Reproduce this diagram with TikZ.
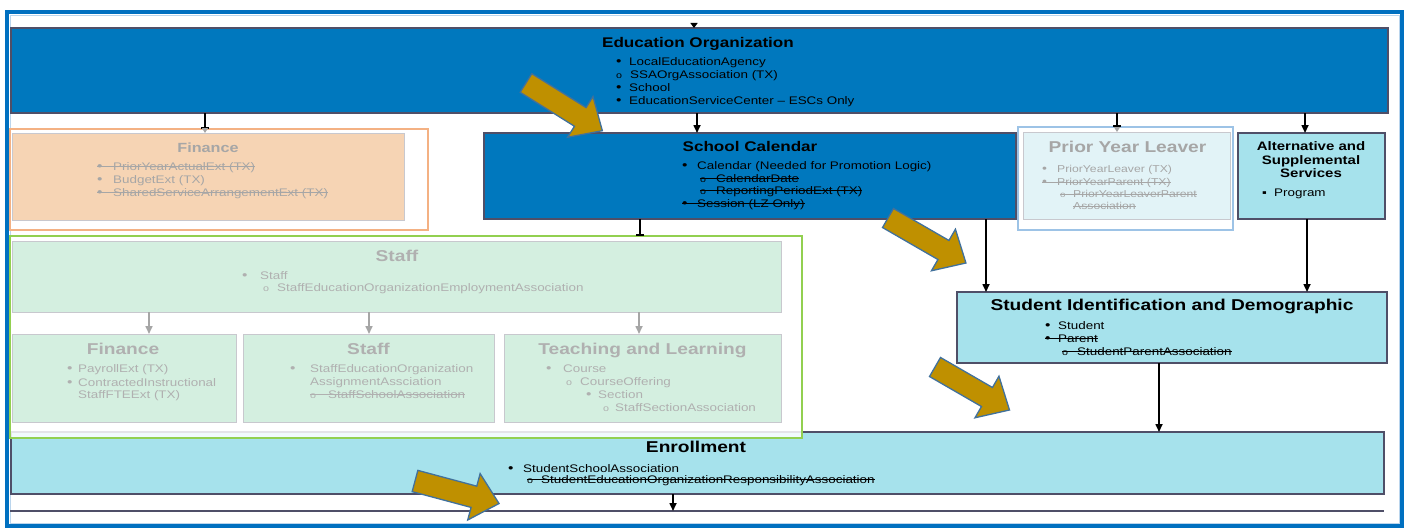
\documentclass[tikz,border=0pt]{standalone}
\usepackage{fontspec}
\setmainfont{Liberation Sans}[FakeStretch=1.22]
\usetikzlibrary{arrows.meta}
\definecolor{eoblue}{HTML}{0078BE}
\definecolor{frameblue}{HTML}{0070C0}
\definecolor{bord}{HTML}{4F4F68}
\definecolor{cyanbox}{HTML}{A6E2EC}
\definecolor{gold}{HTML}{BF9000}
\definecolor{goldedge}{HTML}{41719C}
\definecolor{fadetxt}{HTML}{A6A6A6}
\definecolor{fadetxttwo}{HTML}{B0B0B0}
\definecolor{peach}{HTML}{F6D4B4}
\definecolor{orangeline}{HTML}{F4B183}
\definecolor{palegreen}{HTML}{D4EFE0}
\definecolor{greenline}{HTML}{92D050}
\definecolor{paleblue}{HTML}{E2F3F7}
\definecolor{blueline}{HTML}{9DC3E6}
\definecolor{fadebord}{HTML}{C8C8CE}
\newsavebox\stkbox
\newcommand\stk[1]{\sbox\stkbox{#1}\rlap{\rule[0.27em]{\wd\stkbox}{0.075em}}\usebox\stkbox}
\newcommand\bul[1]{\makebox[#1pt][l]{\scalebox{1.15}{•}}}
\newcommand\subb[1]{\makebox[#1pt][l]{\scalebox{0.8}{o}}}
\newcommand\sqb[1]{\makebox[#1pt][l]{▪}}
\newcommand\fbul{\fontsize{11}{13}\selectfont}
\newcommand\fsmall{\fontsize{10}{12}\selectfont}
\newcommand\fmid{\fontsize{14}{16}\selectfont\bfseries}
\newcommand\fbig{\fontsize{15.7}{18}\selectfont\bfseries}
\begin{document}
\begin{tikzpicture}[x=1pt,y=-1pt,
  box/.style={draw=bord, line width=1.2pt, inner sep=0pt, outer sep=0pt},
  fbx/.style={draw=fadebord, line width=1pt, inner sep=0pt, outer sep=0pt},
  ovl/.style={line width=2.2pt, inner sep=0pt, outer sep=0pt},
  txt/.style={anchor=base west, inner sep=0pt, font=\fbul},
  ttl/.style={anchor=base, inner sep=0pt, font=\fbig},
  arr/.style={line width=1.6pt, -{Triangle[width=7pt,length=8pt]}},
  garr/.style={draw=fadetxt, fill=fadetxt, line width=1.6pt, -{Triangle[width=7pt,length=8pt]}},
  gtip/.style={draw=fadetxt, fill=fadetxt, line width=1pt, -{Triangle[width=6pt,length=5pt]}},
  tbar/.style={line width=1.6pt, -{Bar[width=8pt,line width=2.4pt]}},
  goldarr/.style={fill=gold, draw=goldedge, line width=1.3pt, line join=miter}]
\useasboundingbox (0,0) rectangle (1404,527);
\fill[white] (0,0) rectangle (1404,527);
% outer frame
\draw[frameblue, line width=4pt] (7,12) rectangle (1402,526);
\draw[blueline!70, line width=1pt] (10,15.5) rectangle (1399,523);

% x positions of connectors
\coordinate (xa) at (205,0);
\coordinate (xb) at (697,0);
\coordinate (xc) at (1117,0);
\coordinate (xd) at (1305,0);
\coordinate (xe) at (640,0);
\coordinate (xf) at (986,0);
\coordinate (xg) at (1307,0);
\coordinate (xh1) at (149,0);
\coordinate (xh2) at (369,0);
\coordinate (xh3) at (639,0);
\coordinate (xi) at (1159,0);
\coordinate (xj) at (673,0);
\coordinate (topc) at (694,24);
\coordinate (bl) at (10,511);
\coordinate (br) at (1384,511);

% boxes
\node[box, fill=eoblue, minimum width=1377, minimum height=85] (eo) at (699.5,70.5) {};
\node[ovl, draw=orangeline, fill=white, minimum width=418, minimum height=101] (finov) at (219,179.5) {};
\node[fbx, fill=peach, minimum width=392, minimum height=87] (fin) at (208,176.5) {};
\node[box, fill=eoblue, minimum width=532, minimum height=86] (sc) at (750,176) {};
\node[ovl, draw=blueline, fill=white, minimum width=215, minimum height=103] (pylov) at (1125.5,178.5) {};
\node[fbx, fill=paleblue, minimum width=207, minimum height=87] (pyl) at (1126.5,175.5) {};
\node[box, fill=cyanbox, minimum width=147, minimum height=86] (alt) at (1311.5,176) {};
\node[box, fill=cyanbox, minimum width=430, minimum height=71] (stu) at (1172,327.5) {};
\node[box, fill=cyanbox, minimum width=1373, minimum height=62] (enr) at (697.5,463) {};
\node[ovl, draw=greenline, fill=white, fill opacity=0.85, minimum width=792, minimum height=202] (stov) at (406,337) {};
\node[fbx, fill=palegreen, minimum width=769, minimum height=71] (stf) at (396.5,276.5) {};
\node[fbx, fill=palegreen, minimum width=224, minimum height=88] (fin2) at (124,378) {};
\node[fbx, fill=palegreen, minimum width=251, minimum height=88] (stf2) at (368.5,378) {};
\node[fbx, fill=palegreen, minimum width=277, minimum height=88] (tch) at (642.5,378) {};

% connectors
\draw[line width=1.6pt, -{Triangle[width=7pt,length=5pt]}] (topc) -- (topc |- eo.north);
\draw[tbar] (xa |- eo.south) -- (xa |- finov.north);
\draw[gtip] (xa |- finov.north) -- (xa |- fin.north);
\draw[arr] (xb |- eo.south) -- (xb |- sc.north);
\draw[tbar] (xc |- eo.south) -- (xc |- pylov.north);
\draw[gtip] (xc |- pylov.north) -- (xc |- pyl.north);
\draw[arr] (xd |- eo.south) -- (xd |- alt.north);
\draw[tbar] (xe |- sc.south) -- (xe |- stov.north);
\draw[arr] (xf |- sc.south) -- (xf |- stu.north);
\draw[arr] (xg |- alt.south) -- (xg |- stu.north);
\draw[garr] (xh1 |- stf.south) -- (xh1 |- fin2.north);
\draw[garr] (xh2 |- stf.south) -- (xh2 |- stf2.north);
\draw[garr] (xh3 |- stf.south) -- (xh3 |- tch.north);
\draw[arr] (xi |- stu.south) -- (xi |- enr.north);
\draw[bord, line width=1.6pt] (bl) -- (br);
\draw[arr] (xj |- enr.south) -- (xj |- bl);

% Education Organization
\node[ttl, font=\fmid] (eot) at (698,48) {Education Organization};
\node[txt] (eo1) at (616,66) {\bul{13}LocalEducationAgency};
\node[txt] (eo2) at (616,78) {\subb{14}SSAOrgAssociation (TX)};
\node[txt] (eo3) at (616,91) {\bul{13}School};
\node[txt] (eo4) at (616,104) {\bul{13}EducationServiceCenter – ESCs Only};

% Finance (top, faded)
\node[ttl, font=\fontsize{13.3}{16}\selectfont\bfseries, text=fadetxt] (fint) at (208,152) {Finance};
\node[txt, text=fadetxt] (fin1) at (97,170) {\stk{\bul{16}PriorYearActualExt (TX)}};
\node[txt, text=fadetxt] (fin2t) at (97,183) {\bul{16}BudgetExt (TX)};
\node[txt, text=fadetxt] (fin3) at (97,196) {\stk{\bul{16}SharedServiceArrangementExt (TX)}};

% School Calendar
\node[ttl, font=\fmid] (sct) at (750,151) {School Calendar};
\node[txt] (sc1) at (682,169) {\bul{15}Calendar (Needed for Promotion Logic)};
\node[txt] (sc2) at (700,182) {\stk{\subb{16}CalendarDate}};
\node[txt] (sc3) at (700,194) {\stk{\subb{16}ReportingPeriodExt (TX)}};
\node[txt] (sc4) at (682,207) {\stk{\bul{15}Session (LZ Only)}};

% Prior Year Leaver (faded)
\node[ttl, text=fadetxt] (pylt) at (1127.5,152.5) {Prior Year Leaver};
\node[txt, font=\fsmall, text=fadetxt] (pyl1) at (1042,172) {\bul{15}PriorYearLeaver (TX)};
\node[txt, font=\fsmall, text=fadetxt] (pyl2) at (1042,185) {\stk{\bul{15}PriorYearParent (TX)}};
\node[txt, font=\fsmall, text=fadetxt] (pyl3) at (1060,197) {\stk{\subb{13}PriorYearLeaverParent}};
\node[txt, font=\fsmall, text=fadetxt] (pyl4) at (1073,209) {\stk{Association}};

% Alternative and Supplemental Services
\node[ttl, font=\fontsize{12.3}{14}\selectfont\bfseries] (alt1) at (1311,150.5) {Alternative and};
\node[ttl, font=\fontsize{12.3}{14}\selectfont\bfseries] (alt2) at (1311,164.5) {Supplemental};
\node[ttl, font=\fontsize{12.3}{14}\selectfont\bfseries] (alt3) at (1311,177.5) {Services};
\node[txt] (alt4) at (1262,196) {\sqb{12}Program};

% Staff (faded)
\node[ttl, text=fadetxttwo] (stft) at (397,261.5) {Staff};
\node[txt, text=fadetxttwo] (stf1) at (242,279) {\bul{18}Staff};
\node[txt, text=fadetxttwo] (stf2t) at (263,291) {\subb{14}StaffEducationOrganizationEmploymentAssociation};

\node[ttl, text=fadetxttwo] (fin2tt) at (123,354.5) {Finance};
\node[txt, text=fadetxttwo] (f21) at (67,372) {\bul{11}PayrollExt (TX)};
\node[txt, text=fadetxttwo] (f22) at (67,386) {\bul{11}ContractedInstructional};
\node[txt, text=fadetxttwo] (f23) at (78,398) {StaffFTEExt (TX)};

\node[ttl, text=fadetxttwo] (s2t) at (368.5,354.5) {Staff};
\node[txt, text=fadetxttwo] (s21) at (290,372) {\bul{20}StaffEducationOrganization};
\node[txt, text=fadetxttwo] (s22) at (310,385) {AssignmentAssciation};
\node[txt, text=fadetxttwo] (s23) at (310,398) {\stk{\subb{18}StaffSchoolAssociation}};

\node[ttl, text=fadetxttwo] (tct) at (642.5,354.5) {Teaching and Learning};
\node[txt, text=fadetxttwo] (t1) at (546,372) {\bul{17}Course};
\node[txt, text=fadetxttwo] (t2) at (566,385) {\subb{14}CourseOffering};
\node[txt, text=fadetxttwo] (t3) at (586,398) {\bul{12}Section};
\node[txt, text=fadetxttwo] (t4) at (603,411) {\subb{12}StaffSectionAssociation};

% Student Identification and Demographic
\node[ttl] (stut) at (1172,310.5) {Student Identification and Demographic};
\node[txt] (stu1) at (1045,329) {\bul{13}Student};
\node[txt] (stu2) at (1045,342) {\stk{\bul{13}Parent}};
\node[txt] (stu3) at (1062,355) {\stk{\subb{15}StudentParentAssociation}};

% Enrollment
\node[ttl] (enrt) at (696,452.5) {Enrollment};
\node[txt] (en1) at (508,472) {\bul{15}StudentSchoolAssociation};
\node[txt] (en2) at (527,483) {\stk{\subb{14}StudentEducationOrganizationResponsibilityAssociation}};

% gold highlight arrows
\foreach \ax/\ay/\aa/\al in {526/83/-32/90, 888/218/-30/90, 935/367/-30/86, 415/481/-15/87} {
  \draw[goldarr, shift={(\ax,\ay)}, rotate=\aa]
    (0,-11) -- (\al-26,-11) -- (\al-26,-24) -- (\al,0) -- (\al-26,24) -- (\al-26,11) -- (0,11) -- cycle;
}
\end{tikzpicture}
\end{document}
